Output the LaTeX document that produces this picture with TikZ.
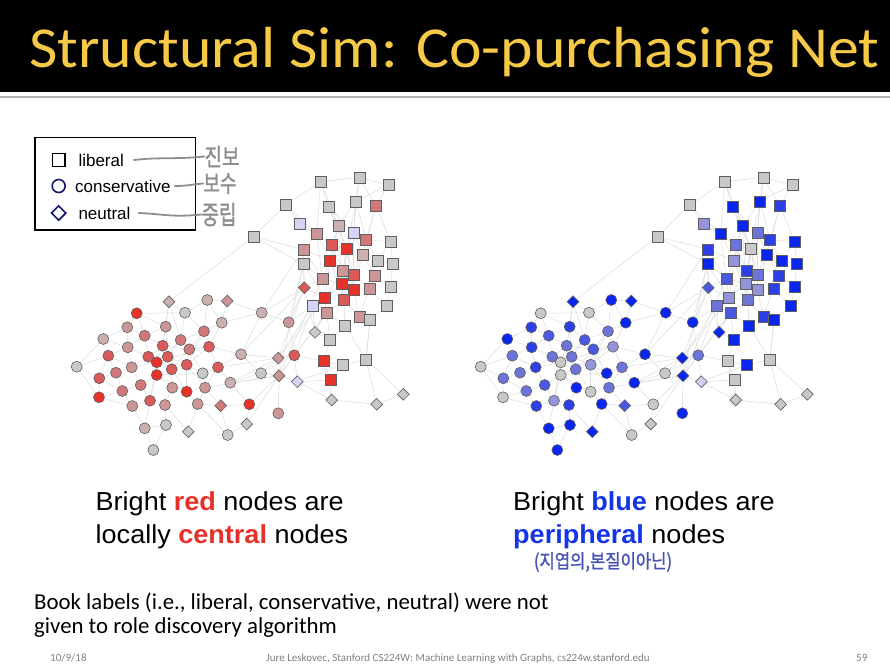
\documentclass[tikz,border=0pt]{standalone}
\usepackage{fontspec}
\setmainfont{Liberation Sans}
\newfontfamily\calfont{Carlito}
\newfontfamily\kofont{Noto Sans CJK KR}[FakeBold=1.2]
\usetikzlibrary{shapes.geometric,backgrounds}

\definecolor{titleyel}{RGB}{246,201,70}
\definecolor{barline}{HTML}{B4B4B4}
\definecolor{navy}{RGB}{22,22,112}
\definecolor{pengray}{HTML}{8E8E8E}
\definecolor{handblue}{RGB}{70,82,182}
\definecolor{capred}{HTML}{E8302A}
\definecolor{capblue}{RGB}{20,52,232}
\definecolor{footgray}{HTML}{7F7F7F}
\definecolor{ndline}{HTML}{5F5F5F}
\definecolor{lnkgray}{HTML}{DCDCDC}
% node fills
\definecolor{gry}{HTML}{C8C8C8}
\definecolor{pa}{HTML}{CBB0B0}
\definecolor{pb}{HTML}{CC9696}
\definecolor{pc}{HTML}{D07878}
\definecolor{pd}{HTML}{D95A58}
\definecolor{pe}{HTML}{E63229}
\definecolor{lb}{HTML}{D4D4F6}
\definecolor{qa}{HTML}{CFCFF5}
\definecolor{qb}{HTML}{9494D8}
\definecolor{qc}{HTML}{6C74DA}
\definecolor{qd}{HTML}{4A58E0}
\definecolor{qe}{HTML}{2C40E6}
\definecolor{qf}{HTML}{0A26EE}

\tikzset{
  nd/.style={draw=ndline, line width=0.6pt, inner sep=0pt},
  sq/.style={nd, rectangle, minimum size=11pt},
  ci/.style={nd, circle, minimum size=11pt},
  di/.style={nd, diamond, minimum size=12pt},
  lnk/.style={draw=lnkgray, line width=0.5pt},
  legtext/.style={anchor=west, inner sep=0pt, font=\fontsize{17}{20}\selectfont},
  kor/.style={inner sep=0pt, text=pengray, font=\kofont\fontsize{20}{22}\selectfont},
  penline/.style={draw=pengray, line width=1.8pt, line cap=round},
  caption/.style={anchor=base west, inner sep=0pt, font=\fontsize{26}{30}\selectfont},
  bodytext/.style={anchor=base west, inner sep=0pt, font=\calfont\fontsize{22.8}{26}\selectfont},
  foot/.style={inner sep=0pt, text=footgray, font=\calfont\fontsize{11}{13}\selectfont}
}

% name/x/y/shape/left fill/right fill
\def\netnodes{
  s1/320.7/181.7/sq/gry/gry, s2/359.3/177.3/sq/gry/gry, s3/388.3/185/sq/gry/gry,
  s4/285.7/205/sq/gry/gry, s5/328.3/206.7/sq/gry/qf, s6/356/201.3/sq/gry/qf,
  s7/376/206/sq/pc/qe, s8/300/224/sq/lb/qb, s9/338.3/225.7/sq/pa/qf,
  s10/316.7/234/sq/pb/qf, s11/353.3/232.7/sq/lb/qc, s12/366/240/sq/pc/qe,
  s13/253.3/236.7/sq/gry/gry, s14/390.7/241.7/sq/gry/qf, s15/331.7/245/sq/pd/qc,
  s16/346.7/249/sq/pe/gry, s17/303.3/249.3/sq/pb/qe, s18/362.7/254.3/sq/pa/qf,
  s19/303.3/264/sq/gry/qf, s20/330/260.7/sq/pe/qb, s21/377.3/260.7/sq/gry/qf,
  s22/392.7/264/sq/gry/qf, s23/342.7/271/sq/pb/qe, s24/353.3/274.3/sq/pd/qc,
  s25/375/276/sq/pb/qe, s26/322.3/278.3/sq/pb/qd, s27/341.7/284/sq/pe/qb,
  s28/353.3/289.3/sq/pe/qb, s29/369.3/289/sq/pb/qe, s30/390.7/286.7/sq/gry/qf,
  s31/325/297.7/sq/pe/qb, s32/344/300/sq/pd/qc, s33/312.7/306/sq/lb/qc,
  s34/386.7/306/sq/gry/qf, s35/326.7/312.3/sq/pb/qd, s36/359.3/316.7/sq/pb/qe,
  s37/370/320/sq/gry/qf, s38/345/325.7/sq/gry/qf, s39/330/340/sq/gry/qf,
  s40/323.3/361/sq/pe/gry, s41/342.7/365/sq/gry/qf, s42/366/359.3/sq/gry/gry,
  s43/330.7/380/sq/pe/gry,
  d1/304.3/287.7/di/pd/qd, d2/169/301.7/di/pa/qf, d3/227.3/301/di/pb/qf,
  d4/315/332.3/di/gry/qf, d5/278.3/358/di/pb/qf, d6/279/375.7/di/pb/qf,
  d7/297.3/381.7/di/lb/qa, d8/220.7/405.7/di/pc/qd, d9/246.7/424/di/gry/gry,
  d10/188.3/431.7/di/gry/qf, d11/331.7/400/di/gry/gry, d12/376.7/404.3/di/gry/gry,
  d13/403.3/394.3/di/gry/gry,
  c1/207.3/300/ci/pa/qf, c2/136.7/313.3/ci/pe/gry, c3/185/312.7/ci/gry/gry,
  c4/261.7/312.7/ci/pa/qf, c5/288.7/322.3/ci/pb/qf, c6/221.7/322.7/ci/pa/qf,
  c7/127.3/327.3/ci/pb/qe, c8/165.7/326.7/ci/pb/qe, c9/204/331.3/ci/pc/qc,
  c10/103.3/339/ci/pa/qf, c11/144.7/335.7/ci/pc/qd, c12/180.7/340/ci/pc/qd,
  c13/127.7/347.3/ci/pb/qe, c14/162.7/345.7/ci/pd/qc, c15/209/346.7/ci/pd/qb,
  c16/189.3/349.3/ci/pc/qd, c17/108.3/355.7/ci/pd/qc, c18/148.3/356.7/ci/pd/qc,
  c19/167.7/356.7/ci/pd/qc, c20/241/354.3/ci/pa/qf, c21/294.3/355.3/ci/pd/qc,
  c22/76.7/366.7/ci/gry/gry, c23/116/372.7/ci/pc/qc, c24/131.7/367.3/ci/pb/qe,
  c25/156.7/362.3/ci/pe/gry, c26/156.7/375/ci/pe/gry, c27/171.7/369.3/ci/pd/qc,
  c28/186.7/364.7/ci/pd/qb, c29/202.7/373.3/ci/gry/qf, c30/218/367.3/ci/pd/qc,
  c31/261/373.3/ci/gry/gry, c32/99.3/378.3/ci/pd/qc, c33/140.7/385/ci/pc/qd,
  c34/172.3/387.7/ci/pb/qf, c35/186.7/391.7/ci/pe/gry, c36/205/387.7/ci/pb/qc,
  c37/230.3/382.7/ci/pa/qf, c38/122.3/391/ci/pc/qc, c39/99/397.3/ci/pe/gry,
  c40/132.3/406/ci/pb/qe, c41/150/400.7/ci/pd/qb, c42/165/405/ci/pb/qe,
  c43/197.7/404/ci/pb/qf, c44/249.3/404.3/ci/pe/gry, c45/278.3/413.3/ci/pb/qf,
  c46/144.7/428.3/ci/pa/qf, c47/166/425/ci/gry/qf, c48/227.7/435/ci/gry/gry,
  c49/153.3/450/ci/gry/qf}

\def\netedges{
  s1/s2, s2/s3, s1/s4, s1/s5, s1/s9, s2/s6, s2/s7, s3/s7, s3/s6, s2/s11, s1/s10,
  s4/s8, s4/s13, s4/s10, s5/s9, s5/s16, s6/s11, s6/s12, s6/s16, s7/s12, s7/s18,
  s7/s14, s8/s10, s8/s15, s9/s15, s9/s16, s9/s20, s10/s15, s10/s17, s10/s20,
  s11/s16, s11/s18, s11/s24, s12/s18, s12/s14, s12/s21, s13/s17, s13/s19,
  s14/s21, s14/s22, s15/s16, s15/s20, s15/s23, s15/s27, s16/s18, s16/s23,
  s16/s24, s16/s27, s16/s28, s17/s20, s17/s26, s18/s24, s18/s25, s19/s26,
  s19/s31, s20/s23, s20/s26, s20/s27, s20/s31, s21/s25, s21/s22, s22/s30,
  s23/s24, s23/s27, s23/s28, s24/s28, s24/s29, s25/s29, s25/s30, s26/s31,
  s26/s27, s27/s28, s27/s31, s27/s32, s28/s32, s28/s29, s28/s36, s29/s34,
  s29/s36, s30/s34, s31/s32, s31/s33, s31/s35, s32/s35, s32/s36, s32/s38,
  s33/s35, s34/s37, s35/s38, s36/s37, s36/s38, s35/s39, s38/s39, s39/s40,
  s40/s41, s40/s43, s41/s42, s38/s42, s37/s42, s24/s32, s9/s27, s15/s32,
  s20/s32, s16/s32, s23/s31, s10/s26, s12/s25, s11/s28, s18/s28, s6/s9,
  s5/s11, s16/s20,
  s13/d2, d1/s26, d1/s31, d1/s17, d1/s19, d1/c4, d1/c5, d1/c20, d4/s33,
  d4/s39, d4/s35, d4/d1, c5/s33, c5/s19, c5/c21, c4/s17, c4/c20, c4/c5,
  c21/s40, c21/d7, c21/s33, c21/s35, c21/d5, c21/d6, c21/c31, d5/s33, d5/s31,
  d5/d1, d5/c20, d5/c30, d5/c31, d5/c37, d6/s35, d6/s26, d6/s19, d6/d7,
  d6/c45, d6/c36, d6/c44, d6/c31, d6/c37, d6/d9, d7/d11, d7/s43, d7/s41,
  d11/s43, d11/d12, d12/d13, d12/s42, d13/s42, s42/s37, d11/s40,
  c22/c10, c22/c17, c22/c32, c22/c39, c10/c7, c10/c13, c10/c17, c7/c2,
  c7/c11, c7/c13, c2/c3, c2/c8, c2/c11, d2/c3, d2/c8, d2/c12, d2/c14, c3/c1,
  c3/c12, c3/c9, c1/d3, c1/c6, c1/c9, d3/c6, d3/c4, c6/c9, c6/c15, c6/c4,
  c8/c11, c8/c12, c8/c14, c8/c19, c9/c12, c9/c15, c9/c16, c11/c14, c11/c18,
  c11/c13, c12/c16, c12/c19, c13/c17, c13/c24, c13/c18, c14/c18, c14/c19,
  c14/c25, c15/c16, c15/c28, c15/c30, c16/c28, c16/c27, c17/c23, c17/c24,
  c17/c32, c18/c25, c18/c24, c19/c25, c19/c27, c20/c30, c20/c31, c20/c15,
  c23/c32, c23/c38, c23/c24, c24/c25, c24/c33, c25/c26, c25/c27, c25/c28,
  c26/c27, c26/c33, c26/c34, c26/c41, c27/c28, c27/c34, c28/c29, c28/c35,
  c29/c36, c29/c30, c30/c37, c30/c36, c31/c37, c32/c39, c32/c38, c33/c38,
  c33/c41, c34/c35, c34/c42, c35/c36, c35/c43, c36/c43, c36/d8, c37/c44,
  c38/c39, c38/c40, c39/c40, c40/c41, c40/c46, c41/c42, c41/c46, c42/c47,
  c42/d10, c43/d8, c43/d10, c44/d9, c44/d8, c46/c49, c47/c49, c47/c46,
  c48/d9, c48/d8, c48/c43, c25/c41, c26/c35, c25/c12, c25/c15, c26/c29,
  c27/c35, c18/c26, c16/c29, c28/c36, c14/c16, c19/c28, c9/c28}

\begin{document}
\begin{tikzpicture}[x=1pt, y=-1pt]
  \useasboundingbox (0,0) rectangle (890,664);

  % title bar
  \fill[black] (0,0) rectangle (890,92);
  \draw[barline, line width=2.6pt] (0,97) -- (890,97);
  \node[anchor=base west, inner sep=0pt, text=titleyel,
        font=\calfont\fontsize{58}{60}\selectfont] (title) at (29,67)
        {\scalebox{1.065}[1]{Structural Sim: Co-purchasing Net}};

  % legend
  \draw[line width=1.3pt] (35,137.3) rectangle (195.7,230);
  \node[draw=black, line width=1.4pt, minimum size=12.5pt, inner sep=0pt] (symlib) at (58.7,160) {};
  \node[circle, draw=navy, line width=1.6pt, minimum size=13pt, inner sep=0pt] (symcon) at (58.7,186) {};
  \node[diamond, draw=navy, line width=1.6pt, minimum size=15pt, inner sep=0pt] (symneu) at (58.7,213) {};
  \node[legtext] (lib) at (78.3,160) {liberal};
  \node[legtext] (con) at (75,186) {conservative};
  \node[legtext] (neu) at (78.3,213) {neutral};

  \node[kor] (jinbo) at (222,156.5) {\scalebox{0.95}[1.2]{진보}};
  \node[kor] (bosu) at (220,183.5) {\scalebox{0.9}[1.2]{보수}};
  \node[kor] (jungrip) at (219,214.5) {\scalebox{0.95}[1.3]{중립}};
  \draw[penline] ([xshift=10pt]lib.east) .. controls +(25,-3) and +(-30,3) .. (jinbo.west);
  \draw[penline] ([xshift=4pt]con.east) .. controls +(12,0) and +(-12,1) .. (bosu.west);
  \draw[penline] ([xshift=8pt]neu.east) .. controls +(25,1) and +(-30,3) .. (jungrip.west);

  % left network
  \foreach \nm/\x/\y/\sh/\cL/\cR in \netnodes
    \node[\sh, fill=\cL] (L\nm) at (\x,\y) {};
  \begin{pgfonlayer}{background}
    \foreach \a/\b in \netedges
      \draw[lnk] (L\a) -- (L\b);
  \end{pgfonlayer}

  % right network
  \begin{scope}[xshift=404pt]
    \foreach \nm/\x/\y/\sh/\cL/\cR in \netnodes
      \node[\sh, fill=\cR] (R\nm) at (\x,\y) {};
    \begin{pgfonlayer}{background}
      \foreach \a/\b in \netedges
        \draw[lnk] (R\a) -- (R\b);
    \end{pgfonlayer}
  \end{scope}

  % captions
  \node[caption] (capl1) at (95.5,510.7) {\scalebox{1.04}[1]{Bright \textcolor{capred}{\bfseries red} nodes are}};
  \node[caption] (capl2) at (95.5,543) {\scalebox{1.04}[1]{locally \textcolor{capred}{\bfseries central} nodes}};
  \node[caption] (capr1) at (513,510.7) {\scalebox{1.04}[1]{Bright \textcolor{capblue}{\bfseries blue} nodes are}};
  \node[caption] (capr2) at (513,543) {\scalebox{1.04}[1]{\textcolor{capblue}{\bfseries peripheral} nodes}};
  \node[inner sep=0pt, text=handblue, font=\kofont\fontsize{17.5}{20}\selectfont] (jiyeop) at (603,562)
        {\scalebox{0.95}[1.1]{(지엽의,본질이아닌)}};

  \node[bodytext] (book1) at (34,609) {Book labels (i.e., liberal, conservative, neutral) were not};
  \node[bodytext] (book2) at (34,633) {given to role discovery algorithm};

  % footer
  \node[foot, anchor=base west] (date) at (50,661) {10/9/18};
  \node[foot, anchor=base] (credit) at (458,661) {Jure Leskovec, Stanford CS224W: Machine Learning with Graphs, cs224w.stanford.edu};
  \node[foot, anchor=base west] (page) at (856,661) {59};
\end{tikzpicture}
\end{document}
